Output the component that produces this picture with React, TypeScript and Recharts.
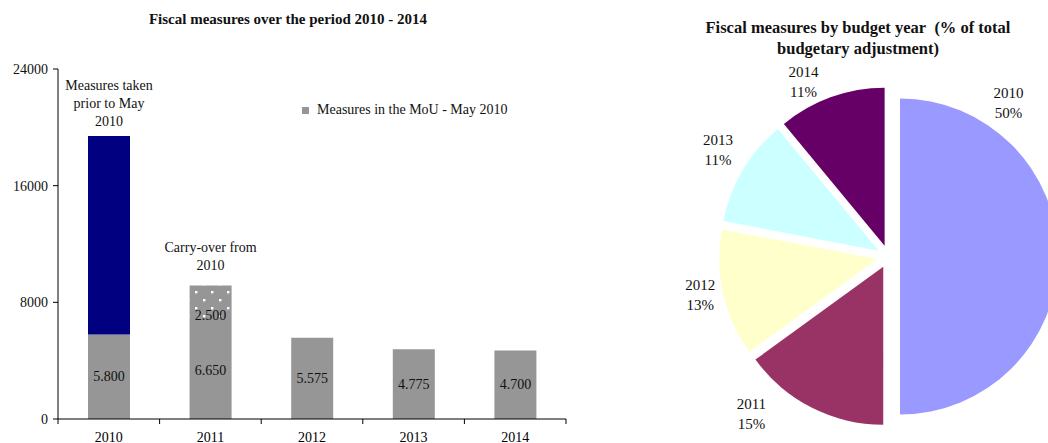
import React from "react";
import {
  BarChart,
  Bar,
  XAxis,
  YAxis,
  LabelList,
  Legend,
  PieChart,
  Pie,
  Cell,
} from "recharts";

// bar chart data (EUR m)
const years = ["2010", "2011", "2012", "2013", "2014"];
const mouMeasures = [5800, 6650, 5575, 4775, 4700];
const priorMeasures = [13600, 0, 0, 0, 0];
const carryOver = [0, 2500, 0, 0, 0];
const yTicks = [0, 8000, 16000, 24000];

const priorNote = ["Measures taken", "prior to May", "2010"];
const carryNote = ["Carry-over from", "2010"];

// pie data (% of total adjustment)
const pieYears = ["2010", "2011", "2012", "2013", "2014"];
const pieShares = [50, 15, 13, 11, 11];
const pieColors = ["#9999ff", "#993366", "#ffffcc", "#ccffff", "#660066"];

const SERIF = '"Liberation Serif", "Times New Roman", serif';
const GREY = "#969696";
const NAVY = "#000080";

const BAR_W = 580;
const BAR_H = 443;
const Y_AXIS_W = 58;
const MARGIN_RIGHT = 14;
const PLOT_W = BAR_W - Y_AXIS_W - MARGIN_RIGHT;
const HALF_BAND = PLOT_W / years.length / 2;

const barData = years.map((y, i) => ({
  year: y,
  mou: mouMeasures[i],
  prior: priorMeasures[i],
  carry: carryOver[i],
}));

const pieData = pieYears.map((y, i) => ({ name: y, value: pieShares[i] }));

function fmt(v: number): string {
  return String(v).replace(/\B(?=(\d{3})+(?!\d))/g, ".");
}

function YearTick(props: any) {
  const { x, y, payload, index } = props;
  const last = index === years.length - 1;
  return (
    <g>
      <line x1={x - HALF_BAND} y1={y} x2={x - HALF_BAND} y2={y + 5} stroke="#000" />
      {last && (
        <line x1={x + HALF_BAND} y1={y} x2={x + HALF_BAND} y2={y + 5} stroke="#000" />
      )}
      <text
        x={x}
        y={y + 18}
        textAnchor="middle"
        dominantBaseline="central"
        fontSize={14}
        fontFamily={SERIF}
        fill="#000"
      >
        {payload.value}
      </text>
    </g>
  );
}

function centerLabel(shift: number) {
  return (props: any) => {
    const { x, y, width, height, value } = props;
    if (!value) return null;
    return (
      <text
        x={x + width / 2}
        y={y + height / 2 + shift}
        textAnchor="middle"
        dominantBaseline="central"
        fontSize={14}
        fontFamily={SERIF}
        fill="#111"
      >
        {fmt(value)}
      </text>
    );
  };
}

function noteLabel(lines: string[], gap: number) {
  return (props: any) => {
    const { x, y, width, value } = props;
    if (!value) return null;
    const lh = 18;
    return (
      <text
        textAnchor="middle"
        fontSize={14}
        fontFamily={SERIF}
        fill="#111"
        dominantBaseline="central"
      >
        {lines.map((l, i) => (
          <tspan key={i} x={x + width / 2} y={y - gap - (lines.length - 1 - i) * lh}>
            {l}
          </tspan>
        ))}
      </text>
    );
  };
}

function MouLegend() {
  return (
    <div
      style={{
        display: "flex",
        alignItems: "center",
        fontFamily: SERIF,
        fontSize: 14,
        lineHeight: "16px",
        color: "#111",
        whiteSpace: "nowrap",
      }}
    >
      <span style={{ width: 7, height: 7, background: GREY, marginRight: 8, display: "inline-block" }} />
      Measures in the MoU - May 2010
    </div>
  );
}

// pie geometry
const PIE_LEFT = 600;
const PIE_CX = 288.5;
const PIE_CY = 256.5;
const PIE_R = 158;
const EXPLODE = 11.5;
// label spots as the original placed them: clockwise deg from top, distance from centre
const LABEL_POS = [
  { a: 38, r: 195 },
  { a: 221, r: 209 },
  { a: 258.5, r: 192 },
  { a: 302, r: 201 },
  { a: 334, r: 194 },
];

const total = pieShares.reduce((a, b) => a + b, 0);
const midAngles = pieShares.map((s, i) => {
  const before = pieShares.slice(0, i).reduce((a, b) => a + b, 0);
  return ((before + s / 2) / total) * 360; // clockwise from 12 o'clock
});

function pieLabel(target: number) {
  return (props: any) => {
    if (props.index !== target) return null;
    const { a, r } = LABEL_POS[target];
    const rad = (a * Math.PI) / 180;
    const lx = PIE_CX + r * Math.sin(rad);
    const ly = PIE_CY - r * Math.cos(rad);
    return (
      <text textAnchor="middle" fontSize={15} fontFamily={SERIF} fill="#111" dominantBaseline="central">
        <tspan x={lx} y={ly - 10}>
          {pieYears[target]}
        </tspan>
        <tspan x={lx} y={ly + 10}>
          {pieShares[target]}%
        </tspan>
      </text>
    );
  };
}

export default function App() {
  return (
    <div style={{ position: "relative", width: 1048, height: 443, background: "#fff", overflow: "hidden" }}>
      <style>{"body{margin:0}"}</style>

      <div
        style={{
          position: "absolute",
          left: 0,
          width: 576,
          top: 11,
          textAlign: "center",
          fontFamily: SERIF,
          fontWeight: "bold",
          fontSize: 15,
          color: "#111",
        }}
      >
        Fiscal measures over the period 2010 - 2014
      </div>

      <div style={{ position: "absolute", left: 0, top: 0 }}>
        <BarChart
          width={BAR_W}
          height={BAR_H}
          data={barData}
          margin={{ top: 69, right: MARGIN_RIGHT, bottom: 0, left: 0 }}
          barSize={42}
        >
          <defs>
            <pattern id="dots" width="16" height="16" patternUnits="userSpaceOnUse">
              <rect width="16" height="16" fill={GREY} />
              <rect x="3" y="3" width="2.4" height="2.4" fill="#fff" />
              <rect x="11" y="11" width="2.4" height="2.4" fill="#fff" />
            </pattern>
          </defs>
          <XAxis
            dataKey="year"
            height={24}
            tickSize={0}
            tickMargin={0}
            tickLine={false}
            axisLine={{ stroke: "#000" }}
            tick={<YearTick />}
            interval={0}
          />
          <YAxis
            width={Y_AXIS_W}
            domain={[0, 24000]}
            ticks={yTicks}
            interval={0}
            tickSize={5}
            tickMargin={5}
            axisLine={{ stroke: "#000" }}
            tickLine={{ stroke: "#000" }}
            tick={{ fontSize: 14, fontFamily: SERIF, fill: "#111" }}
          />
          <Legend
            layout="horizontal"
            verticalAlign="middle"
            align="center"
            wrapperStyle={{ top: 102, left: 302, width: "auto" }}
            content={<MouLegend />}
          />
          <Bar dataKey="mou" stackId="a" fill={GREY} isAnimationActive={false}>
            <LabelList dataKey="mou" content={centerLabel(0)} />
          </Bar>
          <Bar dataKey="prior" stackId="a" fill={NAVY} isAnimationActive={false}>
            <LabelList dataKey="prior" content={noteLabel(priorNote, 15)} />
          </Bar>
          <Bar dataKey="carry" stackId="a" fill="url(#dots)" isAnimationActive={false}>
            <LabelList dataKey="carry" content={centerLabel(12)} />
            <LabelList dataKey="carry" content={noteLabel(carryNote, 21)} />
          </Bar>
        </BarChart>
      </div>

      <div
        style={{
          position: "absolute",
          left: 700,
          width: 316,
          top: 17,
          textAlign: "center",
          fontFamily: SERIF,
          fontWeight: "bold",
          fontSize: 16.5,
          lineHeight: "21px",
          color: "#111",
        }}
      >
        Fiscal measures by budget year&nbsp; (% of total budgetary adjustment)
      </div>

      <div style={{ position: "absolute", left: PIE_LEFT, top: 0 }}>
        <PieChart width={1048 - PIE_LEFT} height={443} margin={{ top: 0, right: 0, bottom: 0, left: 0 }}>
          {pieData.map((_, k) => {
            const rad = (midAngles[k] * Math.PI) / 180;
            return (
              <Pie
                key={k}
                data={pieData}
                dataKey="value"
                cx={PIE_CX + EXPLODE * Math.sin(rad)}
                cy={PIE_CY - EXPLODE * Math.cos(rad)}
                outerRadius={PIE_R}
                startAngle={90}
                endAngle={-270}
                stroke="none"
                labelLine={false}
                label={pieLabel(k)}
                isAnimationActive={false}
              >
                {pieData.map((d, i) => (
                  <Cell key={d.name} fill={i === k ? pieColors[i] : "none"} stroke="none" />
                ))}
              </Pie>
            );
          })}
        </PieChart>
      </div>
    </div>
  );
}
